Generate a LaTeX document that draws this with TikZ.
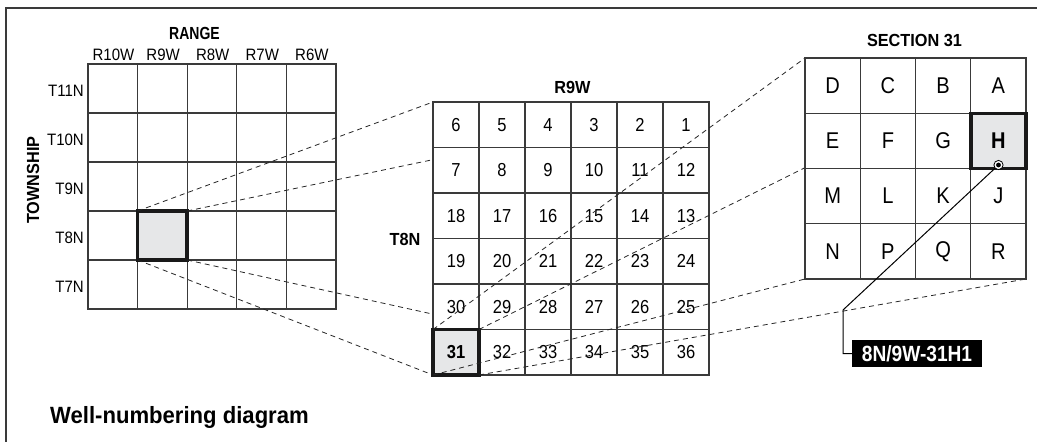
\documentclass[tikz,border=0pt]{standalone}
\usepackage{fontspec}
\setmainfont{Liberation Sans}
\newfontfamily\condf{Liberation Sans}[FakeStretch=0.88]
\newfontfamily\labcf{Liberation Sans}[FakeStretch=0.91]
\newfontfamily\hdf{Liberation Sans}[FakeStretch=0.93]
\newfontfamily\hdn{Liberation Sans}[FakeStretch=0.8]
\newfontfamily\capf{Liberation Sans}[FakeStretch=0.94]
\newfontfamily\labf{Liberation Sans}[FakeStretch=0.87]
\definecolor{gridc}{HTML}{3A3A3A}
\definecolor{hl}{HTML}{E6E7E8}
\pgfdeclarelayer{Llay}\pgfdeclarelayer{Done}\pgfdeclarelayer{Mlay}\pgfdeclarelayer{Dtwo}
\pgfsetlayers{Llay,Done,Mlay,Dtwo,main}
\tikzset{
 cell/.style={draw=gridc, line width=1.1pt, fill=white, inner sep=0pt, outer sep=0pt, anchor=north west},
 lcell/.style={cell, minimum width=49.6pt, minimum height=49pt},
 mcell/.style={cell, minimum width=46pt, minimum height=45.5pt, font=\condf\fontsize{18.8}{20}\selectfont},
 rcell/.style={cell, minimum width=55.25pt, minimum height=55.25pt, font=\condf\fontsize{22.8}{24}\selectfont},
 hot/.style={draw=black!90, line width=3.5pt, fill=hl},
 proj/.style={dash pattern=on 5pt off 4pt, line width=0.8pt, black!85},
 lab/.style={font=\labcf\fontsize{16.5}{18}\selectfont, inner sep=0pt},
 head/.style={font=\hdf\bfseries\fontsize{17.5}{19}\selectfont, inner sep=0pt},
}
\begin{document}
\begin{tikzpicture}[x=1pt,y=-1pt]
\useasboundingbox (0,0) rectangle (1037,442);
\coordinate (fa) at (6,442);
\coordinate (fb) at (1037,8);
\draw[gridc, line width=1.3pt] (fa) |- (fb);

% ---------- left grid ----------
\begin{pgfonlayer}{Llay}
\foreach \c in {1,...,5} \foreach \r in {1,...,5}
  \node[lcell] (L-\c-\r) at ({88+(\c-1)*49.6},{64+(\r-1)*49}) {};
\node[lcell,hot] (Lsel) at (137.6,211) {};
\foreach \t [count=\i from 0] in {R10W,R9W,R8W,R7W,R6W}
  \node[lab] (rl\i) at ({113.5+\i*49.6},55) {\t};
\foreach \t [count=\i from 0] in {T11N,T10N,T9N,T8N,T7N}
  \node[lab, anchor=east] (tl\i) at (84,{90.5+\i*49}) {\t};
\node[head, font=\hdn\bfseries\fontsize{17.5}{19}\selectfont] (range) at (194.5,33) {RANGE};
\node[head, rotate=90] (town) at (33,180) {TOWNSHIP};
\end{pgfonlayer}

% ---------- middle grid ----------
\begin{pgfonlayer}{Mlay}
\foreach \r in {1,...,6} \foreach \c in {1,...,6} {
  \pgfmathtruncatemacro{\n}{mod(\r,2)==1 ? 6*\r+1-\c : 6*(\r-1)+\c}
  \node[mcell] (M-\c-\r) at ({433+(\c-1)*46},{102+(\r-1)*45.5}) {\n};
}
\node[mcell,hot,font=\bfseries\condf\fontsize{18.8}{20}\selectfont] (Msel) at (433,329.5) {31};
\node[head] (r9w) at (572.5,87.5) {R9W};
\node[head] (t8n) at (405,239) {T8N};
\end{pgfonlayer}

% ---------- right grid ----------
\foreach \l [count=\i from 0] in {D,C,B,A,E,F,G,H,M,L,K,J,N,P,Q,R} {
  \pgfmathtruncatemacro{\c}{mod(\i,4)+1}
  \pgfmathtruncatemacro{\r}{div(\i,4)+1}
  \node[rcell] (R-\c-\r) at ({805+(\c-1)*55.25},{58+(\r-1)*55.25}) {\l};
}
\node[rcell,hot,font=\bfseries\condf\fontsize{22.8}{24}\selectfont] (Rsel) at (970.75,113.25) {H};
\node[head] (sec) at (914.5,40) {SECTION 31};

% ---------- projection lines ----------
\begin{pgfonlayer}{Done}
\draw[proj] (Lsel.north west) -- (M-1-1.north west);
\draw[proj] (Lsel.north east) -- (M-6-1.north east);
\draw[proj] (Lsel.south west) -- (M-1-6.south west);
\draw[proj] (Lsel.south east) -- (M-6-6.south east);
\end{pgfonlayer}
\begin{pgfonlayer}{Dtwo}
\draw[proj] (Msel.north west) -- (R-1-1.north west);
\draw[proj] (Msel.north east) -- (R-4-1.north east);
\draw[proj] (Msel.south west) -- (R-1-4.south west);
\draw[proj] (Msel.south east) -- (R-4-4.south east);
\end{pgfonlayer}

% ---------- well label ----------
\node[fill=black, text=white, font=\labf\bfseries\fontsize{22}{24}\selectfont,
      minimum width=130pt, minimum height=27pt, inner sep=0pt, outer sep=0pt] (wid) at (917,353.5) {8N/9W-31H1};
\node[circle, minimum size=10pt, inner sep=0pt] (dot) at (998.5,165) {};
\coordinate (bend) at (843,310);
\draw[line width=1pt] (dot.center) -- (bend) |- (wid.west);
\draw[line width=0.8pt, fill=white] (dot.center) circle (4.6pt);
\fill (dot.center) circle (2.4pt);

% ---------- caption ----------
\node[anchor=base west, font=\capf\bfseries\fontsize{23.5}{26}\selectfont, inner sep=0pt] (cap) at (50,423.3) {Well-numbering diagram};
\end{tikzpicture}
\end{document}
